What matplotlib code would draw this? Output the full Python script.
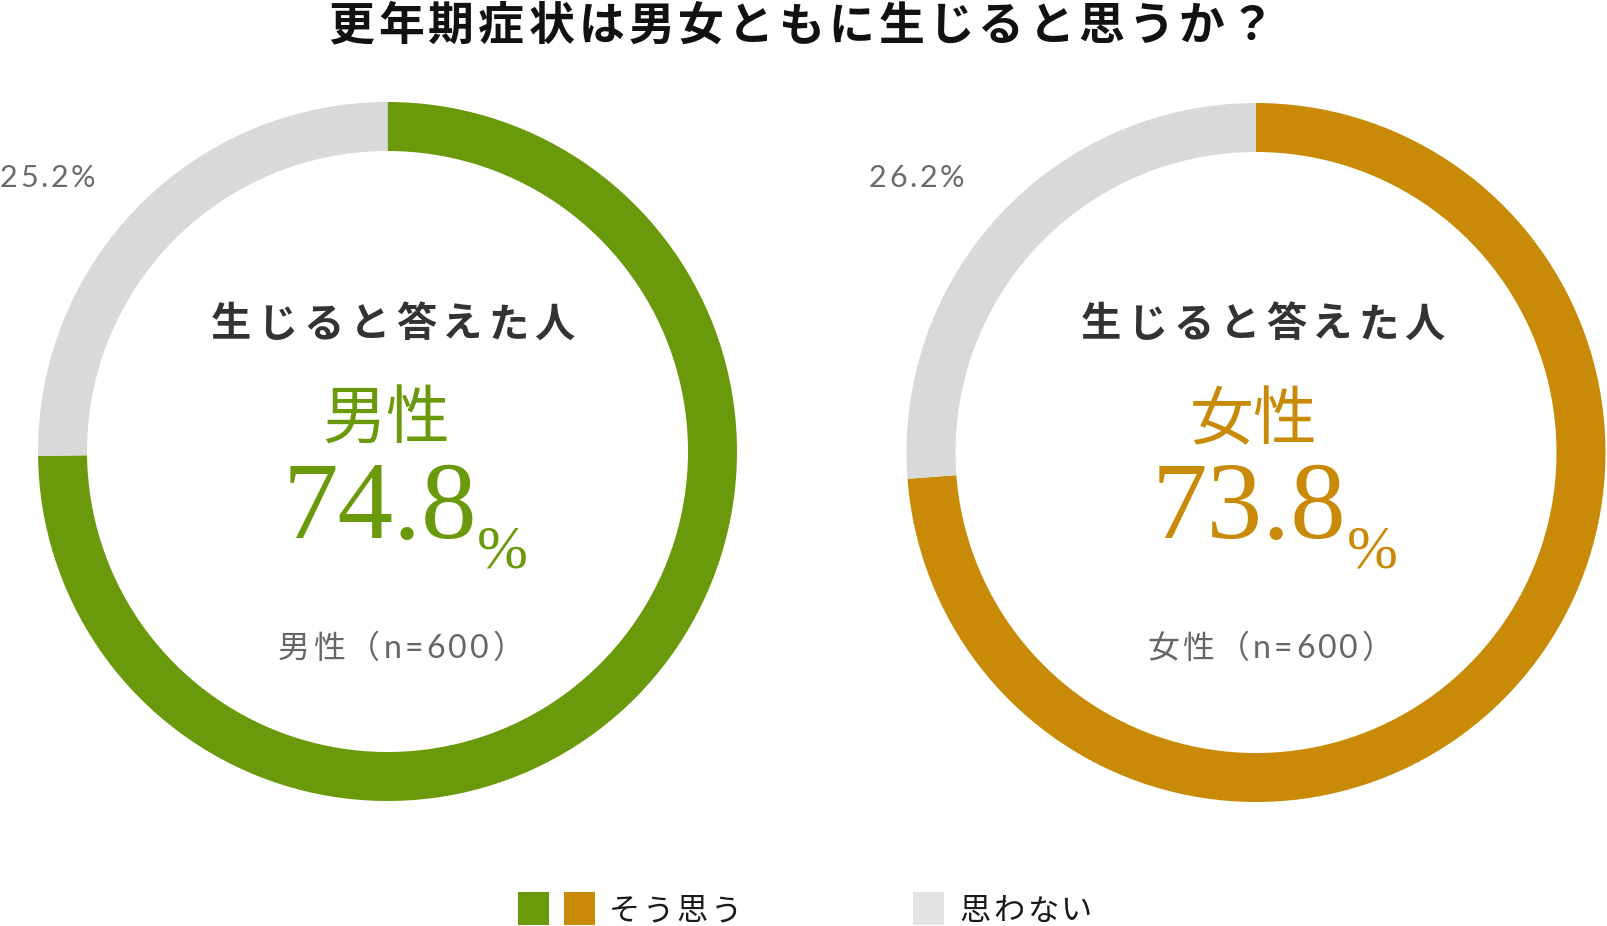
import matplotlib
matplotlib.use('Agg')
import matplotlib.pyplot as plt
from matplotlib.font_manager import FontProperties, findfont, get_font
from matplotlib.patches import Rectangle

W, H, DPI = 1608, 926, 100

# ---------------- data ----------------
title = '更年期症状は男女ともに生じると思うか？'
groups = ['男性', '女性']
agree = [74.8, 73.8]
disagree = [25.2, 26.2]
n_counts = [600, 600]
center_caption = '生じると答えた人'
legend_labels = ['そう思う', '思わない']

# ---------------- style ----------------
GREEN = '#6A9A0B'
ORANGE = '#C88A07'
GRAY = '#D9D9D9'
LEG_GRAY = '#E3E3E3'
group_colors = [GREEN, ORANGE]
CJK = 'Noto Sans CJK JP'
LAT = 'Lato'
SERIF = 'Liberation Serif'

fig = plt.figure(figsize=(W / DPI, H / DPI), dpi=DPI)
ax = fig.add_axes([0, 0, 1, 1])


def Y(y):
    return H - y


def metrics(ch, fp):
    font = get_font(findfont(fp))
    font.set_size(fp.get_size_in_points(), DPI)
    g = font.load_char(ord(ch))
    return g.linearHoriAdvance / 65536.0, g.horiBearingX / 64.0, g.width / 64.0


def fit_text(left, right, base, s, size, color, weight='normal',
             family=CJK, latin=None, split=True):
    """Place text so that its ink spans [left, right] (image px), baseline at base."""
    fps = []
    for ch in s:
        fam = latin if (latin and ord(ch) < 128) else family
        fps.append(FontProperties(family=fam, weight=weight, size=size))
    m = [metrics(ch, fp) for ch, fp in zip(s, fps)]
    pens = []
    pen = 0.0
    for adv, bx, w in m:
        pens.append(pen)
        pen += adv
    ink_l = pens[0] + m[0][1]
    ink_r = pens[-1] + m[-1][1] + m[-1][2]
    natural = ink_r - ink_l
    if right is None or len(s) == 1 or not split:
        sp = 0.0
    else:
        sp = (right - left - natural) / (len(s) - 1)
    if not split:
        ax.text(left - ink_l, Y(base), s, ha='left', va='baseline',
                fontproperties=fps[0], color=color)
        return
    for i, (ch, fp) in enumerate(zip(s, fps)):
        if ch.strip() == '':
            continue
        x = left - ink_l + pens[i] + i * sp
        ax.text(x, Y(base), ch, ha='left', va='baseline', fontproperties=fp,
                color=color)


centers = [(387.5, 451.5), (1256.0, 452.5)]
R_OUT = 349.5
RING = 49

pct_label_left = [1, 870]
caption_span = [(212, 574), (1082, 1444)]
group_span = [(325, 453), (1193, 1323)]
num_span = [(290, 475), (1159, 1343)]
pctsign_left = [479, 1349]
n_span = [(279, 502), (1149, 1371)]

for i in range(2):
    cx, cy = centers[i]
    ax.pie([agree[i], disagree[i]], colors=[group_colors[i], GRAY],
           startangle=90, counterclock=False, radius=R_OUT,
           center=(cx, Y(cy)), frame=True,
           wedgeprops=dict(width=RING, linewidth=0, antialiased=True))

    # outside percent label for the "思わない" share
    fit_text(pct_label_left[i], pct_label_left[i] + 93, 187,
             f'{disagree[i]:.1f}%', 22, '#6b6b6b', family=LAT, latin=LAT)

    # central texts
    fit_text(caption_span[i][0], caption_span[i][1], 336.5, center_caption,
             29, '#333333', weight='bold')
    fit_text(group_span[i][0], group_span[i][1], 439, groups[i], 46,
             group_colors[i], split=False)
    fit_text(num_span[i][0], num_span[i][1], 538, f'{agree[i]:.1f}', 80,
             group_colors[i], family=SERIF, split=False)
    fit_text(pctsign_left[i], None, 567, '%', 44, group_colors[i],
             family=SERIF, split=False)
    fit_text(n_span[i][0], n_span[i][1], 658,
             f'{groups[i]}（n={n_counts[i]}）', 23, '#666666', latin=LAT)

# title
fit_text(330, 1263, 40, title, 33, '#111111', weight='bold')

# legend
ax.add_patch(Rectangle((518, Y(925)), 31, 33, facecolor=GREEN, edgecolor='none'))
ax.add_patch(Rectangle((564, Y(925)), 31, 33, facecolor=ORANGE, edgecolor='none'))
ax.add_patch(Rectangle((913, Y(925)), 31, 33, facecolor=LEG_GRAY, edgecolor='none'))
fit_text(612, 736, 920.5, legend_labels[0], 22.5, '#1a1a1a')
fit_text(961, 1089, 920.5, legend_labels[1], 22.5, '#1a1a1a')

ax.set_xlim(0, W)
ax.set_ylim(0, H)
ax.set_aspect('equal')
ax.axis('off')

fig.savefig('out.png', dpi=DPI, facecolor='white')
